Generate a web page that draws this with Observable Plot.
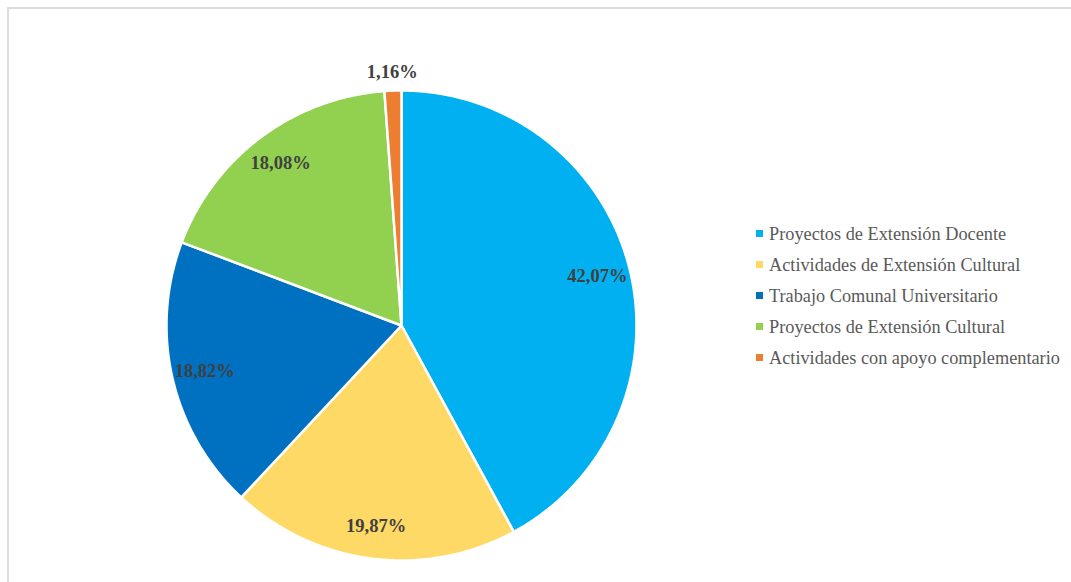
<!DOCTYPE html>
<html>
<head>
<meta charset="utf-8">
<script src="https://cdn.jsdelivr.net/npm/d3@7"></script>
<script src="https://cdn.jsdelivr.net/npm/@observablehq/plot@0.6"></script>
<style>
  html, body { margin: 0; padding: 0; background: #fff; }
  #wrap { position: relative; width: 1071px; height: 582px; overflow: hidden; }
  #frame { position: absolute; left: 7px; top: 7px; width: 1100px; height: 620px;
           border-top: 2px solid #dcdcdc; border-left: 2px solid #dcdcdc; }
  #chart { position: absolute; left: 0; top: 0; }
  #legend { position: absolute; left: 756px; top: 218px; font-family: "Liberation Serif", "Times New Roman", serif;
            font-size: 18.3px; color: #595959; }
  .item { height: 31px; line-height: 22px; white-space: nowrap; display: flex; align-items: center; }
  .sw { display: inline-block; width: 7px; height: 7px; margin-right: 6px; }
</style>
</head>
<body>
<div id="wrap">
  <div id="frame"></div>
  <div id="chart"></div>
  <div id="legend"></div>
</div>
<script>
const categories = [
  "Proyectos de Extensión Docente",
  "Actividades de Extensión Cultural",
  "Trabajo Comunal Universitario",
  "Proyectos de Extensión Cultural",
  "Actividades con apoyo complementario"
];
const values = [42.07, 19.87, 18.82, 18.08, 1.16];
const labels = ["42,07%", "19,87%", "18,82%", "18,08%", "1,16%"];
const colors = ["#00B0F0", "#FFD966", "#0070C0", "#92D050", "#ED7D31"];

const data = categories.map((c, i) => ({category: c, value: values[i], label: labels[i]}));
const arcs = d3.pie().sort(null).value(d => d.value).startAngle(0).endAngle(2 * Math.PI)(data);

// polygon points for each slice
const pts = [];
for (const a of arcs) {
  const c = a.data.category;
  pts.push({category: c, x: 0, y: 0});
  const n = Math.max(2, Math.ceil((a.endAngle - a.startAngle) / (Math.PI / 180) * 2));
  for (let k = 0; k <= n; k++) {
    const t = a.startAngle + (a.endAngle - a.startAngle) * k / n;
    pts.push({category: c, x: Math.sin(t), y: Math.cos(t)});
  }
  pts.push({category: c, x: 0, y: 0});
}
const labelPts = arcs.map(a => {
  const m = (a.startAngle + a.endAngle) / 2;
  const r = a.data.value < 5 ? 1.08 : 0.86;
  return {label: a.data.label, x: r * Math.sin(m), y: r * Math.cos(m)};
});

const cx = 401, cy = 325, R = 235;
const plot = Plot.plot({
  width: 1071, height: 582,
  margin: 0,
  x: {domain: [-1, 1], range: [cx - R, cx + R], axis: null},
  y: {domain: [-1, 1], range: [cy + R, cy - R], axis: null},
  color: {domain: categories, range: colors},
  style: {background: "transparent"},
  marks: [
    Plot.line(pts, {x: "x", y: "y", z: "category", fill: "category", stroke: "white", strokeWidth: 2.5, curve: "linear", strokeLinejoin: "round"}),
    Plot.text(labelPts, {x: "x", y: "y", text: "label", fontFamily: "Liberation Serif", fontWeight: "bold", fontSize: 18.5, fill: "#404040"})
  ]
});
document.getElementById("chart").appendChild(plot);

const legend = document.getElementById("legend");
categories.forEach((c, i) => {
  const it = document.createElement("div");
  it.className = "item";
  const sw = document.createElement("span");
  sw.className = "sw";
  sw.style.background = colors[i];
  it.appendChild(sw);
  it.appendChild(document.createTextNode(c));
  legend.appendChild(it);
});
</script>
</body>
</html>
